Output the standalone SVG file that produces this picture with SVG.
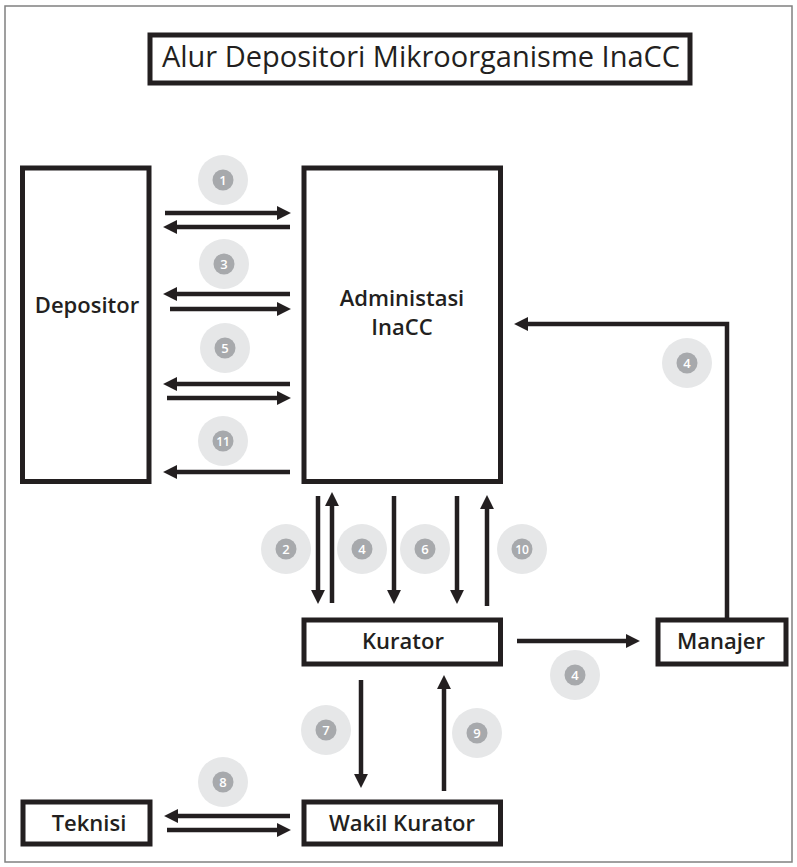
<svg xmlns="http://www.w3.org/2000/svg" width="797" height="867" viewBox="0 0 797 867">
<style>
.box{fill:#fff;stroke:#231f20;stroke-width:5}
.lbl{font-family:"Open Sans","Noto Sans","Liberation Sans",sans-serif;font-weight:600;font-size:22px;fill:#231f20;text-anchor:middle}
.title{font-family:"Open Sans","Noto Sans","Liberation Sans",sans-serif;font-weight:400;font-size:29px;fill:#231f20;text-anchor:middle}
.ar{stroke:#231f20;stroke-width:4.5;fill:none;marker-end:url(#ah)}
.bg{fill:#e6e7e8}
.dot{fill:#a7a9ac}
.num{font-family:"Open Sans","Noto Sans","Liberation Sans",sans-serif;font-weight:600;font-size:13px;fill:#fff;text-anchor:middle}
</style>
<defs>
<marker id="ah" markerUnits="userSpaceOnUse" markerWidth="14" markerHeight="14" viewBox="0 0 13 13" refX="1" refY="6.5" orient="auto">
<path d="M0,0 L13,6.5 L0,13 z" fill="#231f20"/>
</marker>
</defs>
<rect x="0" y="0" width="797" height="867" fill="#fff"/>
<rect x="5" y="6" width="787" height="856" fill="none" stroke="#808080" stroke-width="1.5"/>

<g id="title">
<rect class="box" x="150" y="35" width="540" height="48"/>
<text class="title" x="421" y="67">Alur Depositori Mikroorganisme InaCC</text>
</g>

<g id="badges">
<g><circle class="bg" cx="223" cy="180" r="25"/><circle class="dot" cx="223" cy="180" r="10.5"/><text class="num" x="223" y="184.5">1</text></g>
<g><circle class="bg" cx="224" cy="264" r="25"/><circle class="dot" cx="224" cy="264" r="10.5"/><text class="num" x="224" y="268.5">3</text></g>
<g><circle class="bg" cx="225" cy="348" r="25"/><circle class="dot" cx="225" cy="348" r="10.5"/><text class="num" x="225" y="352.5">5</text></g>
<g><circle class="bg" cx="223" cy="441" r="25"/><circle class="dot" cx="223" cy="441" r="10.5"/><text class="num" x="223" y="445.5" style="font-size:12px">11</text></g>
<g><circle class="bg" cx="286" cy="549" r="25"/><circle class="dot" cx="286" cy="549" r="10.5"/><text class="num" x="286" y="553.5">2</text></g>
<g><circle class="bg" cx="362" cy="549" r="25"/><circle class="dot" cx="362" cy="549" r="10.5"/><text class="num" x="362" y="553.5">4</text></g>
<g><circle class="bg" cx="425" cy="549" r="25"/><circle class="dot" cx="425" cy="549" r="10.5"/><text class="num" x="425" y="553.5">6</text></g>
<g><circle class="bg" cx="522" cy="549" r="25"/><circle class="dot" cx="522" cy="549" r="10.5"/><text class="num" x="522" y="553.5" style="font-size:12px">10</text></g>
<g><circle class="bg" cx="687" cy="363" r="25"/><circle class="dot" cx="687" cy="363" r="10.5"/><text class="num" x="687" y="367.5">4</text></g>
<g><circle class="bg" cx="575" cy="675" r="25"/><circle class="dot" cx="575" cy="675" r="10.5"/><text class="num" x="575" y="679.5">4</text></g>
<g><circle class="bg" cx="326" cy="730" r="25"/><circle class="dot" cx="326" cy="730" r="10.5"/><text class="num" x="326" y="734.5">7</text></g>
<g><circle class="bg" cx="477" cy="733" r="25"/><circle class="dot" cx="477" cy="733" r="10.5"/><text class="num" x="477" y="737.5">9</text></g>
<g><circle class="bg" cx="223" cy="782" r="25"/><circle class="dot" cx="223" cy="782" r="10.5"/><text class="num" x="223" y="786.5">8</text></g>
</g>

<g id="connectors">
<line class="ar" x1="165" y1="213" x2="278" y2="213"/>
<line class="ar" x1="290" y1="227" x2="176" y2="227"/>
<line class="ar" x1="290" y1="294" x2="176" y2="294"/>
<line class="ar" x1="170" y1="309" x2="278" y2="309"/>
<line class="ar" x1="290" y1="384" x2="176" y2="384"/>
<line class="ar" x1="167" y1="398" x2="278" y2="398"/>
<line class="ar" x1="290" y1="472" x2="176" y2="472"/>
<line class="ar" x1="318" y1="496" x2="318" y2="591"/>
<line class="ar" x1="332" y1="603" x2="332" y2="505"/>
<line class="ar" x1="394" y1="496" x2="394" y2="591"/>
<line class="ar" x1="457" y1="496" x2="457" y2="591"/>
<line class="ar" x1="487" y1="606" x2="487" y2="508"/>
<polyline class="ar" points="727,620 727,324 527,324"/>
<line class="ar" x1="517" y1="641" x2="627" y2="641"/>
<line class="ar" x1="361" y1="680" x2="361" y2="775"/>
<line class="ar" x1="444" y1="791" x2="444" y2="688"/>
<line class="ar" x1="290" y1="816" x2="177" y2="816"/>
<line class="ar" x1="167" y1="830" x2="278" y2="830"/>
</g>

<g id="depositor">
<rect class="box" x="22.5" y="168" width="126.5" height="313.5"/>
<text class="lbl" x="87" y="313">Depositor</text>
</g>
<g id="administrasi">
<rect class="box" x="304" y="168" width="196.5" height="313.5"/>
<text class="lbl" x="402" y="306">Administasi</text>
<text class="lbl" x="402" y="335">InaCC</text>
</g>
<g id="kurator">
<rect class="box" x="304" y="620" width="196.5" height="44"/>
<text class="lbl" x="403" y="649">Kurator</text>
</g>
<g id="manajer">
<rect class="box" x="658" y="620" width="128" height="44"/>
<text class="lbl" x="721" y="649">Manajer</text>
</g>
<g id="teknisi">
<rect class="box" x="23" y="802" width="127" height="42"/>
<text class="lbl" x="89" y="831">Teknisi</text>
</g>
<g id="wakil-kurator">
<rect class="box" x="304" y="802" width="196.5" height="42"/>
<text class="lbl" x="402" y="831">Wakil Kurator</text>
</g>
</svg>
